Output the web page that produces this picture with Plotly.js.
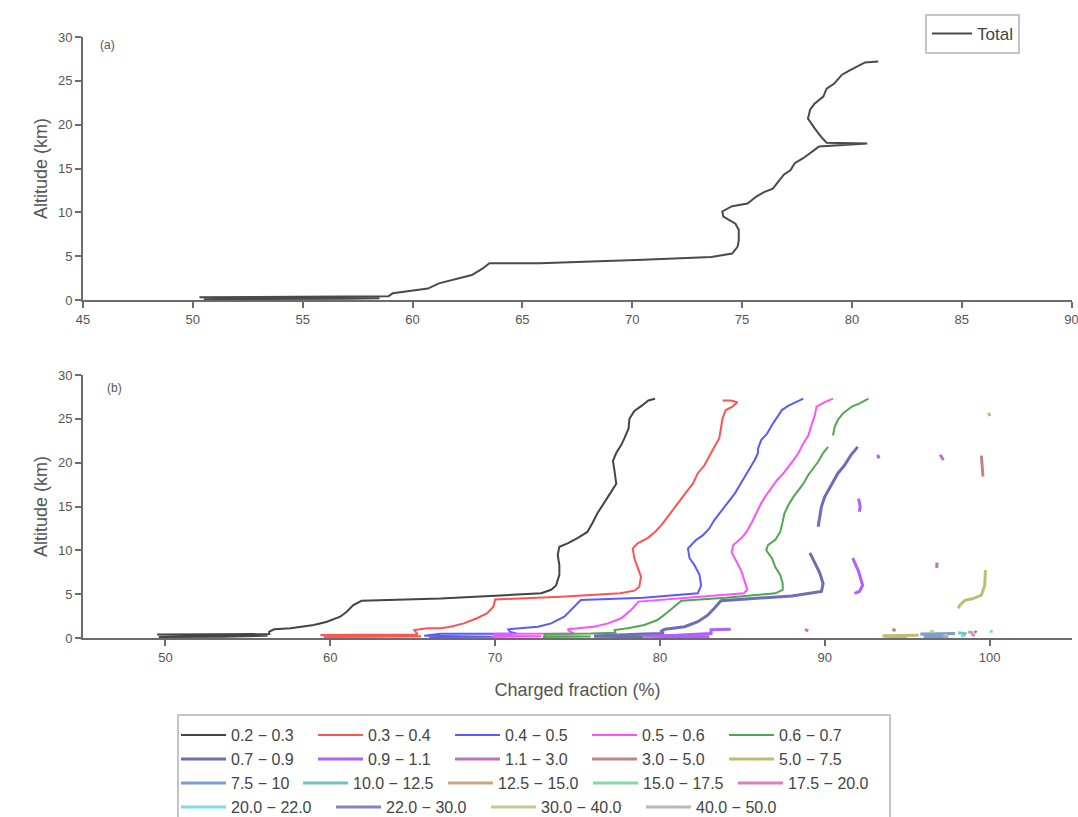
<!DOCTYPE html>
<html>
<head>
<meta charset="utf-8">
<script src="https://cdn.plot.ly/plotly-3.0.1.min.js"></script>
<style>
html,body{margin:0;padding:0;background:#fff;}
#chart{width:1078px;height:817px;}
</style>
</head>
<body>
<div id="chart"></div>
<script>
// ---------------- DATA ----------------
// (a) Total charged fraction (%) vs altitude (km)
const total_cf  = [81.2, 80.6, 79.9, 79.55, 79.2, 78.85, 78.7, 78.3, 78.1, 78.0, 78.3, 78.6, 78.85, 80.7, 78.5, 78.2, 77.8, 77.4, 77.2, 76.9, 76.7, 76.4, 76.0, 75.65, 75.25, 74.55, 74.1, 74.15, 74.7, 74.85, 74.85, 74.8, 74.55, 73.6, 70.5, 65.8, 63.5, 63.2, 62.7, 62.1, 61.2, 60.7, 59.9, 59.1, 58.9, 56.0, 53.0, 50.3, 52.0, 55.0, 58.5, 57.0, 53.0, 50.5];
const total_alt = [27.2, 27.1, 26.2, 25.7, 24.7, 24.1, 23.2, 22.4, 21.7, 20.7, 19.6, 18.6, 17.95, 17.85, 17.5, 16.9, 16.2, 15.6, 14.8, 14.3, 13.7, 12.7, 12.3, 11.8, 11.0, 10.7, 10.1, 9.5, 8.7, 8.0, 6.8, 6.1, 5.3, 4.9, 4.6, 4.2, 4.2, 3.6, 2.85, 2.5, 1.9, 1.3, 1.06, 0.76, 0.42, 0.4, 0.36, 0.32, 0.27, 0.24, 0.2, 0.15, 0.12, 0.1];

// (b) size bins
const BIN_LABELS = ['0.2 − 0.3','0.3 − 0.4','0.4 − 0.5','0.5 − 0.6','0.6 − 0.7',
                    '0.7 − 0.9','0.9 − 1.1','1.1 − 3.0','3.0 − 5.0','5.0 − 7.5',
                    '7.5 − 10','10.0 − 12.5','12.5 − 15.0','15.0 − 17.5','17.5 − 20.0',
                    '20.0 − 22.0','22.0 − 30.0','30.0 − 40.0','40.0 − 50.0'];

const cf_b1  = [79.7, 79.3, 78.9, 78.45, 78.15, 78.1, 77.85, 77.65, 77.35, 77.15, 77.25, 77.35, 77.05, 76.65, 76.2, 75.9, 75.6, 75.0, 74.4, 73.9, 73.8, 73.9, 73.9, 73.7, 73.4, 72.8, 66.7, 61.9, 61.4, 61.0, 60.6, 59.8, 59.0, 57.6, 56.6, 56.3, 56.3, 53.0, 49.5, 52.0, 56.2, 53.5, 49.6];
const alt_b1 = [27.3, 27.1, 26.5, 25.9, 25.0, 23.9, 22.8, 22.0, 21.1, 20.2, 19.0, 17.6, 16.7, 15.5, 14.2, 13.1, 12.1, 11.4, 10.8, 10.4, 9.5, 8.3, 7.2, 6.0, 5.5, 5.1, 4.5, 4.25, 3.76, 3.0, 2.43, 1.86, 1.48, 1.1, 0.99, 0.72, 0.45, 0.42, 0.4, 0.3, 0.25, 0.15, 0.12];

const cf_b2  = [83.8, 84.3, 84.7, 84.4, 84.0, 83.8, 83.7, 83.6, 83.3, 83.0, 82.7, 82.3, 82.0, 81.7, 81.3, 80.9, 80.5, 80.1, 79.7, 79.25, 78.65, 78.35, 78.45, 78.65, 78.85, 78.75, 78.45, 77.6, 74.0, 70.0, 69.9, 69.5, 68.9, 68.1, 67.3, 66.7, 65.9, 65.1, 65.3, 62.0, 59.4, 62.0, 65.5, 63.0, 59.6];
const alt_b2 = [27.1, 27.1, 26.9, 26.4, 26.0, 25.05, 23.9, 22.8, 21.8, 20.7, 19.7, 18.8, 17.6, 16.9, 15.9, 14.8, 13.8, 12.9, 12.1, 11.4, 10.8, 10.2, 9.1, 8.1, 7.0, 5.85, 5.4, 5.1, 4.7, 4.4, 3.57, 2.8, 2.25, 1.67, 1.29, 1.1, 1.1, 0.9, 0.4, 0.38, 0.35, 0.25, 0.2, 0.14, 0.12];

const cf_b3  = [88.7, 88.2, 87.8, 87.4, 87.1, 86.8, 86.5, 86.15, 85.95, 85.95, 85.75, 85.45, 85.15, 84.85, 84.55, 84.15, 83.8, 83.3, 83.0, 82.6, 82.2, 81.7, 81.8, 82.1, 82.4, 82.5, 82.3, 79.0, 75.2, 74.8, 74.2, 73.4, 72.6, 70.8, 70.9, 71.3, 66.7, 65.7, 68.0, 70.0, 66.0];
const alt_b3 = [27.3, 26.9, 26.5, 26.0, 25.2, 24.3, 23.3, 22.6, 21.6, 21.1, 20.3, 19.4, 18.4, 17.45, 16.5, 15.5, 14.6, 13.45, 12.5, 11.7, 11.2, 10.2, 9.1, 8.3, 7.2, 6.0, 5.1, 4.6, 4.33, 3.57, 2.43, 1.67, 1.29, 0.99, 0.72, 0.5, 0.48, 0.25, 0.2, 0.15, 0.12];

const cf_b4  = [90.5, 90.0, 89.5, 89.4, 89.2, 89.0, 88.7, 88.4, 88.1, 87.8, 87.5, 87.1, 86.75, 86.45, 86.15, 85.85, 85.55, 85.25, 84.95, 84.45, 84.35, 84.65, 84.95, 85.15, 85.3, 85.1, 82.0, 78.7, 78.25, 77.65, 76.85, 76.0, 74.4, 74.5, 74.8, 70.0, 69.9, 72.8, 71.0, 69.8];
const alt_b4 = [27.3, 26.9, 26.4, 25.4, 24.3, 23.1, 22.2, 21.1, 20.3, 19.5, 18.8, 18.0, 17.1, 16.3, 15.4, 14.2, 13.1, 12.1, 11.4, 10.6, 9.8, 8.7, 7.6, 6.4, 5.5, 5.1, 4.6, 4.15, 3.2, 2.25, 1.67, 1.29, 0.99, 0.8, 0.5, 0.48, 0.25, 0.2, 0.15, 0.12];

const cf_b5  = [92.65, 92.15, 91.65, 91.1, 90.8, 90.6, 90.5, null, 90.2, 89.9, 89.6, 89.3, 89.0, 88.7, 88.4, 88.1, 87.8, 87.55, 87.45, 87.3, 87.0, 86.55, 86.45, 86.8, 87.0, 87.3, 87.45, 87.45, 87.0, 84.0, 81.3, 80.9, 80.5, 79.85, 79.05, 78.05, 77.25, 77.3, 75.8, 73.0, 73.0, 75.8, 74.0, 72.9];
const alt_b5 = [27.3, 26.8, 26.4, 25.6, 24.9, 24.1, 23.1, null, 21.8, 21.1, 20.1, 19.35, 18.6, 17.6, 16.9, 16.1, 15.2, 14.2, 13.3, 12.1, 11.2, 10.6, 10.0, 9.1, 8.1, 7.2, 6.2, 5.5, 5.1, 4.6, 4.25, 3.57, 3.0, 2.05, 1.48, 1.1, 0.9, 0.6, 0.5, 0.45, 0.22, 0.18, 0.14, 0.12];

const cf_b6  = [92.0, 91.6, 91.2, 90.8, 90.4, 90.0, 89.8, 89.7, 89.6, null, 89.1, 89.4, 89.7, 89.9, 89.8, 88.0, 83.7, 83.3, 82.9, 82.3, 81.5, 80.3, 80.1, 80.2, 79.0, 76.0, 79.0, 77.0, 76.0];
const alt_b6 = [21.8, 20.9, 19.7, 18.8, 17.45, 16.1, 15.0, 13.8, 12.7, null, 9.7, 8.5, 7.4, 6.2, 5.3, 4.8, 4.25, 3.4, 2.6, 1.86, 1.29, 0.99, 0.8, 0.5, 0.45, 0.22, 0.18, 0.14, 0.12];

const cf_b7  = [93.2, 93.3, null, 92.05, 92.15, 92.1, null, 91.7, 92.05, 92.3, 92.1, 91.8, null, 84.3, 83.1, 83.1, 81.0, 79.0, 81.0, 83.0];
const alt_b7 = [20.9, 20.5, null, 15.9, 15.0, 14.4, null, 9.1, 7.6, 6.0, 5.3, 5.1, null, 1.0, 0.95, 0.5, 0.3, 0.2, 0.15, 0.12];

const cf_b8  = [97.0, 97.2, null, 96.8, 96.8, null, 88.8, 89.0];
const alt_b8 = [20.9, 20.3, null, 8.6, 8.0, null, 1.0, 0.8];

const cf_b9  = [99.5, 99.55, 99.6, null, 94.1, 94.3];
const alt_b9 = [20.8, 19.8, 18.4, null, 1.0, 0.85];

const cf_b10  = [99.95, 100.0, null, 99.75, 99.7, 99.5, 99.0, 98.5, 98.2, 98.1, null, 95.7, 93.5, 95.0, 93.6];
const alt_b10 = [25.7, 25.3, null, 7.75, 6.0, 4.9, 4.5, 4.3, 3.76, 3.4, null, 0.3, 0.25, 0.18, 0.12];

const cf_b11 = [97.9, 95.8, 97.5, 96.0];   const alt_b11 = [0.5, 0.45, 0.2, 0.12];
const cf_b12 = [98.1, 98.5, 98.4];         const alt_b12 = [0.6, 0.5, 0.2];
const cf_b13 = [98.7, 99.0];               const alt_b13 = [0.7, 0.6];
const cf_b14 = [100.1, 100.1];             const alt_b14 = [0.9, 0.6];
const cf_b15 = [98.9, 99.1];               const alt_b15 = [0.4, 0.3];
const cf_b16 = [98.3, 98.4];               const alt_b16 = [0.35, 0.15];
const cf_b17 = [99.1, 99.2];               const alt_b17 = [0.8, 0.6];
const cf_b18 = [96.4, 96.6];               const alt_b18 = [0.8, 0.7];
const cf_b19 = [97.2, 97.5];               const alt_b19 = [0.35, 0.3];

// ---------------- STYLE ----------------
const BIN_COLORS = ['#444444','#ff5252','#5a5aff','#ff50ff','#4fa84f',
                    '#6e6eb6','#b060ff','#c070c0','#c08484','#bdbd78',
                    '#7c9fcf','#6cc6c6','#c8a67e','#7ede9c','#e07cbc',
                    '#7cdce6','#8282cc','#c8c890','#b8b8b8'];

const BIN_SERIES = [
  [cf_b1, alt_b1], [cf_b2, alt_b2], [cf_b3, alt_b3], [cf_b4, alt_b4], [cf_b5, alt_b5],
  [cf_b6, alt_b6], [cf_b7, alt_b7], [cf_b8, alt_b8], [cf_b9, alt_b9], [cf_b10, alt_b10],
  [cf_b11, alt_b11], [cf_b12, alt_b12], [cf_b13, alt_b13], [cf_b14, alt_b14], [cf_b15, alt_b15],
  [cf_b16, alt_b16], [cf_b17, alt_b17], [cf_b18, alt_b18], [cf_b19, alt_b19]
];

const FONT = '"Liberation Sans", Arial, sans-serif';
const LEG_FONT_SIZE = 16;
const ROW_PAD = [14, 14, 4, 14];   // extra spacing after each legend row's entries
const ctx = document.createElement('canvas').getContext('2d');
ctx.font = LEG_FONT_SIZE + 'px "Liberation Sans"';

const traces = [];
traces.push({
  type: 'scatter', mode: 'lines', name: 'Total',
  x: total_cf, y: total_alt, xaxis: 'x', yaxis: 'y',
  line: {color: '#4a4a4a', width: 2}, legend: 'legend'
});
BIN_SERIES.forEach((s, i) => {
  const row = Math.floor(i / 5);
  traces.push({
    type: 'scatter', mode: 'lines', name: BIN_LABELS[i],
    x: s[0], y: s[1], xaxis: 'x2', yaxis: 'y2',
    connectgaps: false,
    line: {color: BIN_COLORS[i], width: i < 5 ? 2 : 3},
    legend: 'legend' + (2 + row),
    legendwidth: Math.round(ctx.measureText(BIN_LABELS[i]).width + ROW_PAD[row])
  });
});

// pixel helpers for paper placement (plot area: x 83..1072, y 37..638)
const PX = (px) => (px - 83) / 989;
const PY = (py) => (638 - py) / 601;

const axBase = {
  showline: true, linecolor: '#6c6c6c', linewidth: 2,
  ticks: 'outside', ticklen: 6, tickwidth: 2, tickcolor: '#6c6c6c',
  showgrid: false, zeroline: false, ticklabeloverflow: 'allow',
  tickfont: {family: FONT, size: 13, color: '#555'}
};
const titleFont = {family: FONT, size: 18, color: '#555'};

const rowLegend = (py) => ({
  orientation: 'h', x: PX(176), xanchor: 'left', y: PY(py), yanchor: 'middle',
  bgcolor: 'rgba(0,0,0,0)', borderwidth: 0, itemwidth: 45,
  font: {family: FONT, size: LEG_FONT_SIZE, color: '#444'}
});

const layout = {
  width: 1078, height: 817,
  margin: {l: 83, r: 6, t: 37, b: 179, autoexpand: false},
  paper_bgcolor: '#fff', plot_bgcolor: '#fff',
  font: {family: FONT, color: '#555'},
  showlegend: true,
  xaxis: Object.assign({}, axBase, {anchor: 'y', range: [45, 90.02], dtick: 5, tick0: 45}),
  yaxis: Object.assign({}, axBase, {anchor: 'x', domain: [0.5624, 1], range: [0, 30], dtick: 5,
          title: {text: 'Altitude (km)', font: titleFont, standoff: 6}}),
  xaxis2: Object.assign({}, axBase, {anchor: 'y2', range: [45, 105], dtick: 10, tick0: 0,
          title: {text: 'Charged fraction (%)', font: titleFont, standoff: 20}}),
  yaxis2: Object.assign({}, axBase, {anchor: 'x2', domain: [0, 0.4376], range: [0, 30], dtick: 5,
          title: {text: 'Altitude (km)', font: titleFont, standoff: 6}}),
  legend: {
    x: PX(925), xanchor: 'left', y: PY(14), yanchor: 'top',
    bgcolor: '#fff', bordercolor: '#c4c4c4', borderwidth: 2, itemwidth: 40,
    font: {family: FONT, size: 17, color: '#444'}
  },
  legend2: rowLegend(735),
  legend3: rowLegend(759),
  legend4: rowLegend(783),
  legend5: rowLegend(807),
  shapes: [{
    type: 'rect', xref: 'paper', yref: 'paper',
    x0: PX(178), x1: PX(890), y0: PY(715), y1: PY(840),
    line: {color: '#c4c4c4', width: 2}, fillcolor: 'rgba(0,0,0,0)'
  }],
  annotations: [
    {text: '(a)', xref: 'paper', yref: 'paper', x: PX(98), y: PY(45), xanchor: 'left', yanchor: 'middle',
     showarrow: false, font: {family: FONT, size: 12, color: '#555'}},
    {text: '(b)', xref: 'paper', yref: 'paper', x: PX(105), y: PY(388), xanchor: 'left', yanchor: 'middle',
     showarrow: false, font: {family: FONT, size: 12, color: '#555'}}
  ]
};

Plotly.newPlot('chart', traces, layout, {displayModeBar: false, responsive: false});
</script>
</body>
</html>
